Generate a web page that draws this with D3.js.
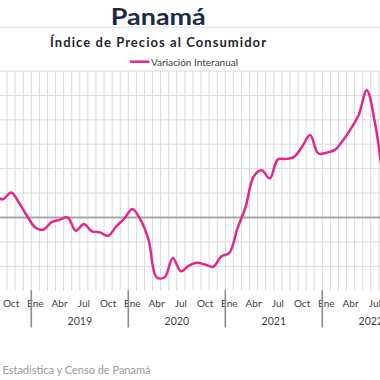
<!DOCTYPE html>
<html><head><meta charset="utf-8">
<script src="https://cdn.jsdelivr.net/npm/d3@7"></script>
<style>
html,body{margin:0;padding:0;background:#fff;overflow:hidden}
svg{display:block;font-family:Lato,"Open Sans",sans-serif}
</style></head>
<body>
<svg id="c" width="380" height="380"></svg>
<script>
// Data: monthly year-on-year CPI change (%), Aug 2018 .. Aug 2022
const monthNames = ["Ene","Feb","Mar","Abr","May","Jun","Jul","Ago","Sep","Oct","Nov","Dic"];
const startYear = 2018, startMonth = 7; // August 2018 (0-based month)
const values = [
  0.90, 0.75, 1.02, 0.59, 0.05,
  -0.41, -0.50, -0.19, -0.10, 0.00, -0.54, -0.27, -0.57, -0.61, -0.75, -0.37, -0.05,
  0.35, -0.09, -0.91, -2.45, -2.45, -1.66, -2.20, -1.97, -1.86, -1.93, -2.02, -1.60,
  -1.45, -0.45, 0.42, 1.67, 1.93, 1.60, 2.38, 2.40, 2.48, 2.90, 3.38, 2.62,
  2.65, 2.76, 3.13, 3.62, 4.20, 5.21, 3.90, 1.60
];
const years = ["2019","2020","2021","2022"];
const yTicks = [-2,-1,1,2,3,4,5,6];
const seriesName = "Variación Interanual";
const title = "Panamá";
const subtitle = "Índice de Precios al Consumidor";
const source = "Fuente: Instituto Nacional de Estadística y Censo de Panamá";

const svg = d3.select("#c");
svg.append("rect").attr("width",380).attr("height",380).attr("fill","#fff");

// month index scale: index 0 = Aug 2018 boundary start
const pxPerMonth = 97/12;
const janIdx2019 = 5;
const x = d3.scaleLinear().domain([0, values.length])
  .range([31.3 - janIdx2019*pxPerMonth, 31.3 + (values.length - janIdx2019)*pxPerMonth]);
const y = d3.scaleLinear().domain([-3, 6]).range([290.7, 71]);
const plotTop = y(6), plotBottom = y(-3);

// title
svg.append("line").attr("x1",0).attr("x2",380).attr("y1",27.5).attr("y2",27.5)
  .attr("stroke","#ececec").attr("stroke-width",2);
svg.append("text").attr("x",158.3).attr("y",25).attr("text-anchor","middle")
  .attr("font-size",22).attr("font-weight","bold").attr("fill","#1b2a47")
  .attr("textLength",95).attr("lengthAdjust","spacingAndGlyphs").text(title);
svg.append("text").attr("x",158).attr("y",46.7).attr("text-anchor","middle")
  .attr("font-size",13).attr("font-weight","bold").attr("fill","#1f1f2e")
  .attr("textLength",216).attr("lengthAdjust","spacing").text(subtitle);

// legend
svg.append("line").attr("x1",130).attr("x2",149.5).attr("y1",61.7).attr("y2",61.7)
  .attr("stroke","#e2268e").attr("stroke-width",2.5);
svg.append("text").attr("x",151).attr("y",66.3).attr("font-size",10).attr("fill","#404040").text(seriesName);

// grid
const g = svg.append("g");
const bounds = d3.range(0, values.length + 1);
g.selectAll("line.v").data(bounds).join("line").attr("class","v")
  .attr("x1",d=>x(d)).attr("x2",d=>x(d)).attr("y1",plotTop).attr("y2",plotBottom)
  .attr("stroke","#d9d9d9").attr("stroke-width",1);
g.selectAll("line.h").data(yTicks).join("line").attr("class","h")
  .attr("x1",0).attr("x2",380).attr("y1",d=>y(d)).attr("y2",d=>y(d))
  .attr("stroke","#d9d9d9").attr("stroke-width",1);
g.append("line").attr("x1",0).attr("x2",380).attr("y1",y(0)).attr("y2",y(0))
  .attr("stroke","#a6a6a6").attr("stroke-width",2);

// line
const line = d3.line().x((d,i)=>x(i+0.5)).y(d=>y(d)).curve(d3.curveCatmullRom.alpha(0.5));
svg.append("path").datum(values).attr("d",line).attr("fill","none")
  .attr("stroke","#e2268e").attr("stroke-width",2.5).attr("stroke-linejoin","round");

// axis labels
const monthInfo = values.map((v,i)=>{ const m=(startMonth+i)%12; return {i, m}; });
svg.selectAll("text.m").data(monthInfo.filter(d=>d.m%3===0)).join("text").attr("class","m")
  .attr("x",d=>x(d.i+0.5)).attr("y",306.5).attr("text-anchor","middle")
  .attr("font-size",10).attr("fill","#404040").text(d=>monthNames[d.m]);
const janIdx = monthInfo.filter(d=>d.m===0).map(d=>d.i);
svg.selectAll("line.yr").data(janIdx).join("line").attr("class","yr")
  .attr("x1",d=>x(d)).attr("x2",d=>x(d)).attr("y1",plotBottom-0.5).attr("y2",327.5)
  .attr("stroke","#8c8c8c").attr("stroke-width",1.6);
svg.selectAll("text.y").data(years).join("text").attr("class","y")
  .attr("x",(d,k)=>x(janIdx[k]+6)).attr("y",325).attr("text-anchor","middle")
  .attr("font-size",10.5).attr("fill","#404040").text(d=>d);

// source
svg.append("text").attr("x",150.5).attr("y",374).attr("text-anchor","end")
  .attr("font-size",11).attr("fill","#9a9a9a").text(source);
</script>
</body></html>
